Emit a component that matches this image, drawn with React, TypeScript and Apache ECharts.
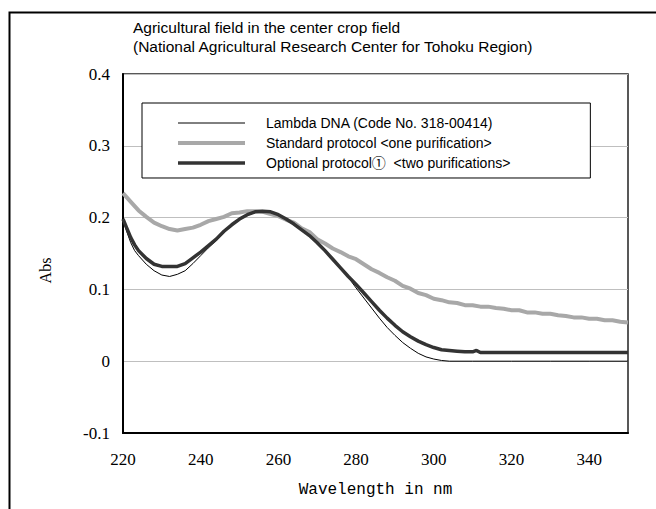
import React, { useEffect, useRef } from "react";
import * as echarts from "echarts";

const titleLines = [
  "Agricultural field in the center crop field",
  "(National Agricultural Research Center for Tohoku Region)",
];
const seriesNames = [
  "Lambda DNA (Code No. 318-00414)",
  "Standard protocol <one purification>",
  "Optional protocol\u2460  <two purifications>",
];

const lambdaNm = [220, 221, 222, 223, 224, 226, 228, 230, 232, 234, 236, 238, 240, 242, 244, 246, 248, 250, 252, 254, 256, 258, 260, 262, 264, 266, 268, 270, 272, 274, 276, 278, 280, 282, 284, 286, 288, 290, 292, 294, 296, 298, 300, 302, 304, 310, 320, 330, 340, 350];
const lambdaAbs = [0.196, 0.180, 0.165, 0.154, 0.147, 0.135, 0.126, 0.120, 0.118, 0.121, 0.126, 0.136, 0.147, 0.158, 0.168, 0.179, 0.189, 0.197, 0.203, 0.207, 0.209, 0.208, 0.204, 0.198, 0.191, 0.183, 0.175, 0.165, 0.154, 0.142, 0.130, 0.117, 0.102, 0.088, 0.074, 0.060, 0.047, 0.036, 0.026, 0.018, 0.011, 0.006, 0.003, 0.001, 0.0, 0.0, 0.0, 0.0, 0.0, 0.0];

const standardNm = [220, 222, 224, 226, 228, 230, 232, 234, 236, 238, 240, 242, 244, 246, 248, 250, 252, 254, 256, 258, 260, 262, 264, 266, 268, 270, 272, 274, 276, 278, 280, 282, 284, 286, 288, 290, 292, 294, 296, 298, 300, 302, 304, 306, 308, 310, 312, 314, 316, 318, 320, 322, 324, 326, 328, 330, 332, 334, 336, 338, 340, 342, 344, 346, 348, 350];
const standardAbs = [0.234, 0.222, 0.210, 0.201, 0.193, 0.188, 0.184, 0.182, 0.184, 0.186, 0.190, 0.195, 0.198, 0.201, 0.206, 0.207, 0.209, 0.209, 0.208, 0.205, 0.202, 0.197, 0.193, 0.185, 0.180, 0.170, 0.164, 0.157, 0.152, 0.146, 0.142, 0.135, 0.128, 0.123, 0.117, 0.112, 0.105, 0.101, 0.095, 0.092, 0.087, 0.085, 0.082, 0.081, 0.078, 0.078, 0.076, 0.076, 0.074, 0.073, 0.071, 0.071, 0.068, 0.068, 0.066, 0.066, 0.064, 0.063, 0.061, 0.061, 0.059, 0.059, 0.057, 0.057, 0.055, 0.054];

const optionalNm = [220, 221, 222, 223, 224, 226, 228, 230, 232, 234, 236, 238, 240, 242, 244, 246, 248, 250, 252, 254, 256, 258, 260, 262, 264, 266, 268, 270, 272, 274, 276, 278, 280, 282, 284, 286, 288, 290, 292, 294, 296, 298, 300, 302, 304, 306, 308, 310, 311, 312, 320, 330, 340, 350];
const optionalAbs = [0.198, 0.185, 0.172, 0.162, 0.154, 0.143, 0.135, 0.132, 0.132, 0.132, 0.136, 0.144, 0.152, 0.161, 0.170, 0.181, 0.190, 0.198, 0.204, 0.208, 0.209, 0.208, 0.204, 0.198, 0.191, 0.183, 0.175, 0.165, 0.154, 0.142, 0.130, 0.118, 0.107, 0.095, 0.083, 0.071, 0.060, 0.050, 0.041, 0.034, 0.028, 0.023, 0.019, 0.016, 0.015, 0.014, 0.013, 0.013, 0.015, 0.012, 0.012, 0.012, 0.012, 0.012];

const xMin = 220;
const xMax = 350;
const xInterval = 20;
const yMin = -0.1;
const yMax = 0.4;
const yInterval = 0.1;

const lineColors = ["#000", "#a8a8a8", "#333"];
const lineWidths = [1, 4, 3.5];

const pairs = (xs: number[], ys: number[]) => xs.map((x, i) => [x, ys[i]]);

export default function App() {
  const ref = useRef<HTMLDivElement>(null);
  useEffect(() => {
    if (!ref.current) return;
    const chart = echarts.init(ref.current, null, { renderer: "svg" });
    const serif = "'Liberation Serif', 'DejaVu Serif', serif";
    const mono = "'Liberation Mono', 'DejaVu Sans Mono', monospace";
    const sans = "'Liberation Sans', Arial, 'Noto Sans CJK JP', sans-serif";
    const dataSets = [
      pairs(lambdaNm, lambdaAbs),
      pairs(standardNm, standardAbs),
      pairs(optionalNm, optionalAbs),
    ];
    chart.setOption({
      animation: false,
      backgroundColor: "#fff",
      title: {
        text: titleLines.join("\n"),
        left: 133,
        top: 18,
        padding: 0,
        textStyle: {
          fontFamily: sans,
          fontSize: 15.5,
          fontWeight: "normal",
          color: "#000",
          lineHeight: 19,
        },
      },
      graphic: [
        {
          type: "rect",
          left: 7,
          top: 10,
          shape: { x: 0, y: 0, width: 700, height: 600 },
          style: { fill: "none", stroke: "#000", lineWidth: 2 },
          silent: true,
          z: 100,
        },
      ],
      legend: {
        orient: "vertical",
        left: 142,
        top: 103,
        padding: [13, 80, 8, 34],
        itemWidth: 67,
        itemHeight: 14,
        itemGap: 6,
        borderColor: "#000",
        borderWidth: 1,
        backgroundColor: "#fff",
        itemStyle: { opacity: 0 },
        textStyle: {
          fontFamily: sans,
          fontSize: 14,
          color: "#000",
          padding: [0, 0, 0, 16],
        },
        data: seriesNames.map((name, i) => ({
          name,
          itemStyle: { opacity: 0 },
          lineStyle: { width: lineWidths[i], color: lineColors[i], opacity: 1 },
        })),
      },
      grid: {
        left: 123,
        right: 28,
        top: 74,
        bottom: 76,
        show: true,
        borderColor: "#222",
        borderWidth: 1.5,
        containLabel: false,
        outerBoundsMode: "none",
      },
      xAxis: {
        type: "value",
        min: xMin,
        max: xMax,
        interval: xInterval,
        name: "Wavelength in nm",
        nameLocation: "middle",
        nameGap: 49,
        nameTextStyle: { fontFamily: mono, fontSize: 16, color: "#000" },
        axisLine: { show: true, onZero: false, lineStyle: { color: "#000", width: 2 } },
        axisTick: { show: false },
        splitLine: { show: false },
        axisLabel: {
          fontFamily: serif,
          fontSize: 17,
          color: "#000",
          margin: 18,
          showMaxLabel: false,
        },
      },
      yAxis: {
        type: "value",
        min: yMin,
        max: yMax,
        interval: yInterval,
        name: "Abs",
        nameLocation: "middle",
        nameGap: 70,
        nameRotate: 90,
        nameTextStyle: { fontFamily: serif, fontSize: 16, color: "#000", padding: [0, 34, 0, 0] },
        axisLine: { show: true, lineStyle: { color: "#000", width: 2 } },
        axisTick: { show: false },
        splitLine: { show: true, lineStyle: { color: "#bfbfbf", width: 1 } },
        axisLabel: {
          fontFamily: serif,
          fontSize: 17,
          color: "#000",
          margin: 13,
          formatter: (v: number) => {
            const r = Math.round(v * 10) / 10;
            return r === 0 ? "0" : String(r);
          },
        },
      },
      series: seriesNames.map((name, i) => ({
        name,
        type: "line",
        data: dataSets[i],
        symbol: "none",
        lineStyle: { color: lineColors[i], width: lineWidths[i] },
        itemStyle: { color: lineColors[i] },
      })),
    });
    return () => chart.dispose();
  }, []);
  return (
    <div
      ref={ref}
      style={{ position: "fixed", left: 0, top: 0, width: 656, height: 509 }}
    />
  );
}
